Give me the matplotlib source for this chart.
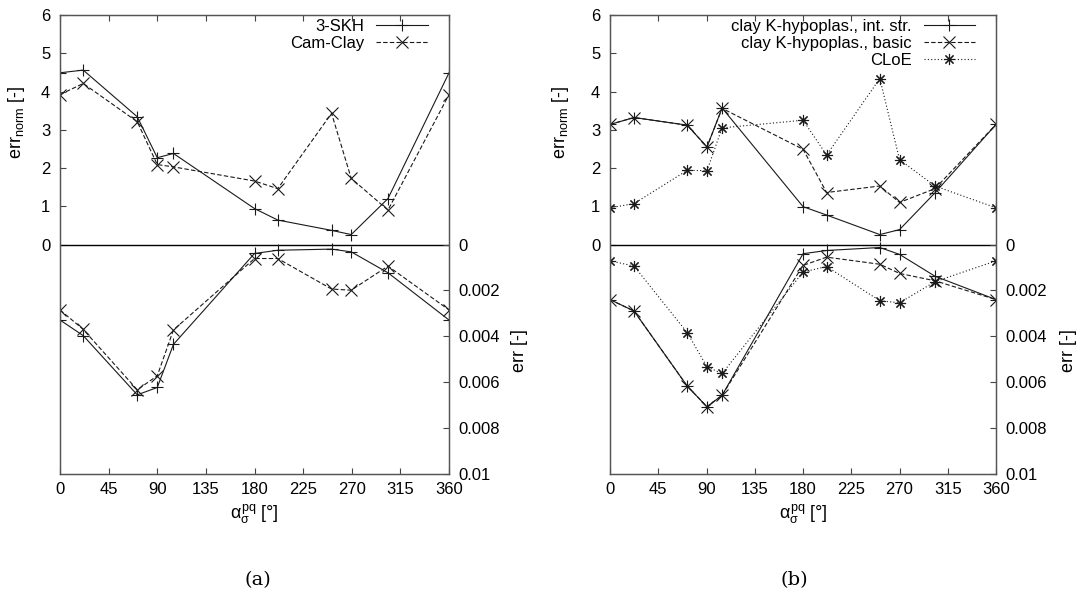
import matplotlib
matplotlib.use("Agg")
import matplotlib.pyplot as plt

plt.rcParams['font.family'] = ['Liberation Sans', 'DejaVu Sans']
plt.rcParams['mathtext.fontset'] = 'custom'
plt.rcParams['mathtext.rm'] = 'Liberation Sans'
plt.rcParams['mathtext.it'] = 'Liberation Sans'

# loading directions [deg]
alpha_a = [0, 21.5, 71.5, 90, 105, 180, 201.5, 251.3, 269.5, 303.5, 360]
alpha_b = [0, 22.4, 72, 90.4, 104.5, 180, 202, 251.6, 270, 303, 360]

# (a) normalised error (upper half) and error (lower half)
skh_norm = [4.49, 4.56, 3.34, 2.27, 2.38, 0.94, 0.64, 0.37, 0.26, 1.2, 4.49]
cam_norm = [3.92, 4.21, 3.21, 2.09, 2.03, 1.66, 1.46, 3.43, 1.73, 0.9, 3.92]
skh_err = [0.00329, 0.00397, 0.00655, 0.00623, 0.00435, 0.00039, 0.00025,
           0.0002, 0.00032, 0.00123, 0.00329]
cam_err = [0.00285, 0.0037, 0.00633, 0.00572, 0.00372, 0.00061, 0.00061,
           0.00194, 0.00199, 0.00094, 0.00285]

# (b)
kint_norm = [3.14, 3.32, 3.12, 2.55, 3.57, 0.99, 0.77, 0.26, 0.39, 1.35, 3.14]
kbas_norm = [3.14, 3.32, 3.12, 2.55, 3.56, 2.49, 1.36, 1.53, 1.1, 1.46, 3.14]
cloe_norm = [0.96, 1.07, 1.94, 1.93, 3.05, 3.25, 2.34, 4.34, 2.22, 1.53, 0.96]
kint_err = [0.0024, 0.0029, 0.00617, 0.00707, 0.00657, 0.0004, 0.00026,
            0.00013, 0.00043, 0.00138, 0.0024]
kbas_err = [0.0024, 0.0029, 0.00617, 0.00707, 0.00657, 0.00091, 0.00055,
            0.00086, 0.00126, 0.00158, 0.0024]
cloe_err = [0.00071, 0.00094, 0.00384, 0.00533, 0.00562, 0.0012, 0.00096,
            0.00245, 0.00254, 0.00162, 0.00071]

norm_ticks = [0, 1, 2, 3, 4, 5, 6]
err_ticks = [0, 0.002, 0.004, 0.006, 0.008, 0.01]
err_labels = ['0', '0.002', '0.004', '0.006', '0.008', '0.01']
x_ticks = list(range(0, 361, 45))

FS = 12
LC = '#1a1a1a'
styles = [
    dict(ls='-', marker='+'),
    dict(ls=(0, (4, 2)), marker='x'),
    dict(ls=(0, (1, 2)), marker=(8, 2, 0)),
]

fig = plt.figure(figsize=(10.83, 6.06), dpi=100)


def panel(rect, x, norms, errs, names, ylab_x, errlab_x):
    ax = fig.add_axes(rect)
    ax2 = ax.twinx()
    for i, (yn, ye, name) in enumerate(zip(norms, errs, names)):
        st = styles[i]
        ax.plot(x, yn, color=LC, lw=0.8, ls=st['ls'], marker=st['marker'],
                ms=8, mew=0.8, label=name)
        ax2.plot(x, ye, color=LC, lw=0.8, ls=st['ls'], marker=st['marker'],
                 ms=8, mew=0.8)
    ax.axhline(0, color='black', lw=1.0)
    ax.set_xlim(0, 360)
    ax.set_ylim(-6, 6)
    ax2.set_ylim(0.01, -0.01)
    ax.set_xticks(x_ticks)
    ax.set_yticks(norm_ticks)
    ax2.set_yticks(err_ticks)
    ax2.set_yticklabels(err_labels)
    ax.tick_params(axis='x', direction='in', top=True, length=4, pad=6,
                   labelsize=FS, color='#444444')
    ax.tick_params(axis='y', direction='in', length=4, pad=7,
                   labelsize=FS, color='#444444')
    ax2.tick_params(axis='y', direction='in', length=4, pad=7,
                    labelsize=FS, color='#444444')
    for a in (ax, ax2):
        for sp in a.spines.values():
            sp.set_color('#555555')
            sp.set_linewidth(0.9)
    ax.set_ylabel(r'err$_{\mathregular{norm}}$ [-]', fontsize=FS + 1)
    ax.yaxis.set_label_coords(ylab_x, 0.765)
    ax2.set_ylabel('err [-]', fontsize=FS + 1)
    ax2.yaxis.set_label_coords(errlab_x, 0.27)
    ax.set_xlabel(r'$\alpha_{\sigma}^{\mathregular{pq}}$ [°]', fontsize=FS + 1)
    ax.xaxis.set_label_coords(0.5, -0.062)
    ax.legend(loc='upper right', bbox_to_anchor=(0.946, 0.992), frameon=False,
              markerfirst=False, fontsize=FS, handlelength=3.1,
              handletextpad=0.7, labelspacing=0.12, borderpad=0,
              borderaxespad=0)
    return ax


panel([0.0554, 0.2178, 0.3592, 0.7574], alpha_a,
      [skh_norm, cam_norm], [skh_err, cam_err], ['3-SKH', 'Cam-Clay'],
      -0.085, 1.16)
panel([0.5633, 0.2178, 0.3564, 0.7574], alpha_b,
      [kint_norm, kbas_norm, cloe_norm], [kint_err, kbas_err, cloe_err],
      ['clay K-hypoplas., int. str.', 'clay K-hypoplas., basic', 'CLoE'],
      -0.1, 1.166)

fig.text(0.238, 0.043, '(a)', family='DejaVu Serif', fontsize=14,
         ha='center', va='center')
fig.text(0.733, 0.043, '(b)', family='DejaVu Serif', fontsize=14,
         ha='center', va='center')

fig.savefig('out.png', dpi=100)
